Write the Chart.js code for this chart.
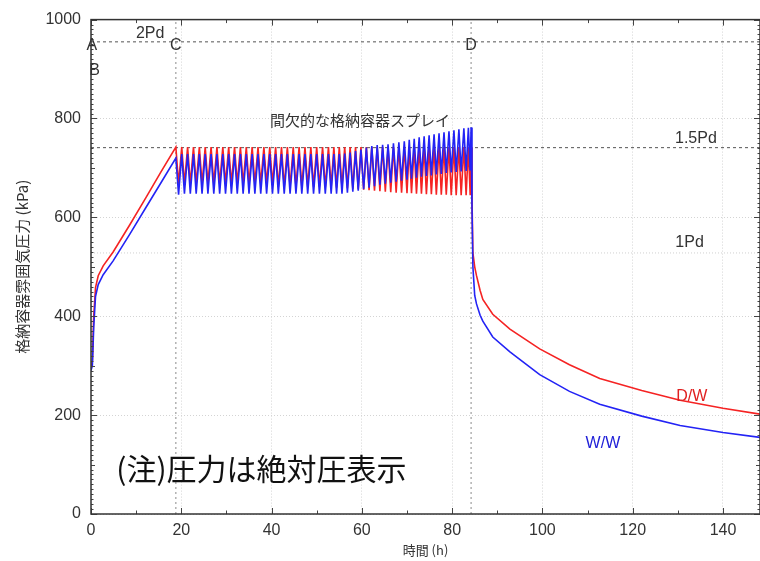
<!DOCTYPE html>
<html>
<head>
<meta charset="utf-8">
<script src="https://cdn.jsdelivr.net/npm/chart.js@4.4.1/dist/chart.umd.min.js"></script>
<style>
  html, body { margin: 0; padding: 0; background: #fff; }
</style>
</head>
<body>
<canvas id="chart" width="760" height="561"></canvas>
<script>
// Axis range
const xMax = 148.2;
const yMax = 1000;

// Reference levels (kPa abs): 2Pd, 1.5Pd, 1Pd
const refLevels = [955, 741, 528];
// Event times (h): C = spray start, D = end of spray
const eventT = [18.8, 84.2];

// Initial pressurisation
const riseT = [0, 0.3, 0.6, 1.0, 1.6, 2.7, 4.9, 8.6, 12.3, 15.5, 18.8];
const redRise = [292, 310, 400, 458, 482, 502, 530, 585, 642, 692, 742];
const blueRise = [290, 300, 378, 440, 464, 484, 512, 566, 622, 670, 720];

// Intermittent spray cycles: peak (spray on) and trough (spray off) times
const sprayOn = [18.8, 20.1, 21.4, 22.7, 24.0, 25.3, 26.6, 27.9, 29.2, 30.5, 31.8, 33.1, 34.4, 35.7, 37.0, 38.3, 39.6,
  40.9, 42.2, 43.5, 44.8, 46.1, 47.4, 48.7, 50.0, 51.3, 52.6, 53.8, 55.0, 56.2, 57.4, 58.6, 59.8,
  61.0, 62.2, 63.4, 64.6, 65.8, 67.0, 68.2, 69.4, 70.5, 71.6, 72.7, 73.8, 74.9, 76.0, 77.1, 78.2, 79.3, 80.4, 81.5, 82.6, 83.6];
const sprayOff = [19.4, 20.7, 22.0, 23.3, 24.6, 25.9, 27.2, 28.5, 29.8, 31.1, 32.4, 33.7, 35.0, 36.3, 37.6, 38.9, 40.2,
  41.5, 42.8, 44.1, 45.4, 46.7, 48.0, 49.3, 50.6, 51.9, 53.2, 54.4, 55.6, 56.8, 58.0, 59.2, 60.4,
  61.6, 62.8, 64.0, 65.2, 66.4, 67.6, 68.8, 70.0, 71.0, 72.1, 73.2, 74.3, 75.4, 76.5, 77.6, 78.7, 79.8, 80.9, 82.0, 83.1, 84.0];

// D/W (red) peak / trough pressures per cycle
const redHigh = [742, 742, 742, 742, 742, 742, 742, 742, 742, 742, 742, 742, 742, 742, 742, 742, 742,
  742, 742, 742, 742, 742, 742, 742, 742, 742, 742, 742, 742, 742, 742, 742, 742,
  742, 742, 742, 742, 742, 742, 742, 742, 742, 742, 742, 742, 742, 742, 742, 742, 742, 742, 742, 742, 742];
const redLow = [668, 668, 668, 668, 668, 668, 668, 668, 668, 668, 668, 668, 668, 668, 668, 668, 668,
  662, 662, 662, 662, 662, 662, 662, 662, 661, 661, 660, 660, 659, 658, 657, 656,
  655, 654, 653, 652, 651, 650, 650, 649, 649, 648, 648, 647, 647, 646, 646, 646, 645, 645, 645, 645, 645];

// W/W (blue) peak / trough pressures per cycle
const blueHigh = [720, 728, 728, 728, 728, 728, 728, 728, 728, 728, 728, 728, 728, 728, 728, 728, 728,
  728, 728, 728, 728, 728, 728, 728, 728, 728, 728, 728, 728, 729, 731, 734, 737,
  741, 744, 746, 747, 748, 750, 752, 754, 757, 759, 762, 764, 766, 768, 770, 772, 774, 776, 778, 780, 781];
const blueLow = [646, 648, 648, 648, 648, 648, 648, 648, 648, 648, 648, 648, 648, 648, 648, 648, 648,
  648, 648, 648, 648, 648, 648, 648, 648, 648, 648, 648, 648, 650, 652, 654, 657,
  660, 663, 666, 668, 670, 672, 674, 676, 678, 680, 682, 684, 685, 687, 688, 690, 691, 692, 693, 694, 695];

// Depressurisation after D
const decayT = [84.2, 84.4, 84.6, 85.0, 85.4, 86.2, 86.8, 89.0, 92.8, 99.4, 106.0, 112.7, 122.0, 130.5, 140.0, 148.2];
const redDecay = [742, 640, 528, 500, 482, 452, 434, 404, 374, 334, 302, 274, 250, 230, 214, 202];
const blueDecay = [782, 620, 500, 442, 425, 402, 390, 358, 328, 282, 248, 222, 198, 179, 165, 155];

// Text on the plot (positions in data units)
const notes = [
  { text: 'A', t: 0.2, p: 948, font: '16px "Liberation Sans"', color: '#333' },
  { text: 'B', t: 0.8, p: 896, font: '16px "Liberation Sans"', color: '#333' },
  { text: '2Pd', t: 13.1, p: 972, font: '16px "Liberation Sans"', color: '#333' },
  { text: 'C', t: 18.8, p: 948, font: '16px "Liberation Sans"', color: '#333' },
  { text: 'D', t: 84.2, p: 948, font: '16px "Liberation Sans"', color: '#333' },
  { text: '間欠的な格納容器スプレイ', t: 59.6, p: 796, font: '15px "Noto Sans CJK JP"', color: '#333' },
  { text: '1.5Pd', t: 134.0, p: 760, font: '16px "Liberation Sans"', color: '#333' },
  { text: '1Pd', t: 132.6, p: 548, font: '16px "Liberation Sans"', color: '#333' },
  { text: 'D/W', t: 133.1, p: 238, font: '16px "Liberation Sans"', color: '#e02020' },
  { text: 'W/W', t: 113.4, p: 142, font: '16px "Liberation Sans"', color: '#2020d8' },
  { text: '(注)圧力は絶対圧表示', t: 5.6, p: 92, font: '30px "Noto Sans CJK JP"', color: '#111', align: 'left' }
];

// Build point lists
function buildSeries(rt, rv, hi, lo, dt, dv) {
  const pts = rt.map((t, i) => ({ x: t, y: rv[i] }));
  sprayOn.forEach((t, i) => {
    pts.push({ x: t, y: hi[i] });
    pts.push({ x: sprayOff[i], y: lo[i] });
  });
  dt.forEach((t, i) => pts.push({ x: t, y: dv[i] }));
  return pts;
}
const redPoints = buildSeries(riseT, redRise, redHigh, redLow, decayT, redDecay);
const bluePoints = buildSeries(riseT, blueRise, blueHigh, blueLow, decayT, blueDecay);

function hLine(v) { return [{ x: 0, y: v }, { x: xMax, y: v }]; }
function vLine(t) { return [{ x: t, y: 0 }, { x: t, y: yMax }]; }

// Frame, inward tick marks and plot text
const frameAndText = {
  id: 'frameAndText',
  afterDatasetsDraw(chart) {
    const { ctx, chartArea: a, scales: { x, y } } = chart;
    ctx.save();
    ctx.strokeStyle = '#444';
    ctx.lineWidth = 1;
    ctx.beginPath();
    for (let t = 0; t <= xMax; t += 10) {
      const px = Math.round(x.getPixelForValue(t)) + 0.5;
      const len = t % 20 === 0 ? 6 : 3.5;
      ctx.moveTo(px, a.bottom); ctx.lineTo(px, a.bottom - len);
      ctx.moveTo(px, a.top); ctx.lineTo(px, a.top + len);
    }
    for (let v = 0; v <= yMax; v += 10) {
      const py = Math.round(y.getPixelForValue(v)) + 0.5;
      const len = v % 200 === 0 ? 6 : (v % 100 === 0 ? 4 : 2.5);
      ctx.moveTo(a.left, py); ctx.lineTo(a.left + len, py);
      ctx.moveTo(a.right, py); ctx.lineTo(a.right - len, py);
    }
    ctx.stroke();
    ctx.strokeStyle = '#333';
    ctx.lineWidth = 1.5;
    ctx.strokeRect(a.left, a.top, a.right - a.left, a.bottom - a.top);

    ctx.textBaseline = 'middle';
    notes.forEach(n => {
      ctx.font = n.font;
      ctx.fillStyle = n.color;
      ctx.textAlign = n.align || 'center';
      ctx.fillText(n.text, x.getPixelForValue(n.t), y.getPixelForValue(n.p));
    });
    ctx.restore();
  }
};

const refDash = { borderColor: '#555', borderWidth: 1, borderDash: [3, 3], pointRadius: 0, order: 5 };
const eventDash = { borderColor: '#8a8a8a', borderWidth: 1, borderDash: [2, 3], pointRadius: 0, order: 5 };

new Chart(document.getElementById('chart'), {
  type: 'line',
  data: {
    datasets: [
      { label: 'W/W', data: bluePoints, borderColor: 'rgb(35,35,245)', borderWidth: 1.6, pointRadius: 0, tension: 0, order: 1 },
      { label: 'D/W', data: redPoints, borderColor: 'rgb(245,35,35)', borderWidth: 1.6, pointRadius: 0, tension: 0, order: 2 },
      { label: '2Pd', data: hLine(refLevels[0]), ...refDash },
      { label: '1.5Pd', data: hLine(refLevels[1]), ...refDash },
      { label: '1Pd', data: hLine(refLevels[2]), borderColor: '#d0d0d0', borderWidth: 1, borderDash: [1, 2], pointRadius: 0, order: 6 },
      { label: 'C', data: vLine(eventT[0]), ...eventDash },
      { label: 'D', data: vLine(eventT[1]), ...eventDash }
    ]
  },
  options: {
    responsive: false,
    animation: false,
    events: [],
    layout: { padding: { top: 15, right: 0, bottom: 0, left: 0 } },
    plugins: { legend: { display: false }, tooltip: { enabled: false } },
    scales: {
      x: {
        type: 'linear',
        min: 0,
        max: xMax,
        afterFit: s => { s.height = 47; },
        ticks: {
          stepSize: 20, includeBounds: false, autoSkip: false, maxRotation: 0, padding: 7,
          color: '#333', font: { family: 'Liberation Sans', size: 16 },
          callback: v => String(v)
        },
        grid: { color: '#d4d4d4', lineWidth: 1, drawTicks: false },
        border: { display: false, dash: [1, 2] },
        title: {
          display: true, text: '時間 (h)', color: '#333',
          font: { family: 'Noto Sans CJK JP', size: 13 }, padding: { top: 0, bottom: 3 }
        }
      },
      y: {
        min: 0,
        max: yMax,
        afterFit: s => { s.width = 91; },
        ticks: {
          stepSize: 200, padding: 10,
          color: '#333', font: { family: 'Liberation Sans', size: 16 },
          callback: v => String(v)
        },
        grid: { color: '#d4d4d4', lineWidth: 1, drawTicks: false },
        border: { display: false, dash: [1, 2] },
        title: {
          display: true, text: '格納容器雰囲気圧力 (kPa)', color: '#333',
          font: { family: 'Noto Sans CJK JP', size: 15 }, padding: { top: 13, bottom: 0 }
        }
      }
    }
  },
  plugins: [frameAndText]
});
</script>
</body>
</html>
